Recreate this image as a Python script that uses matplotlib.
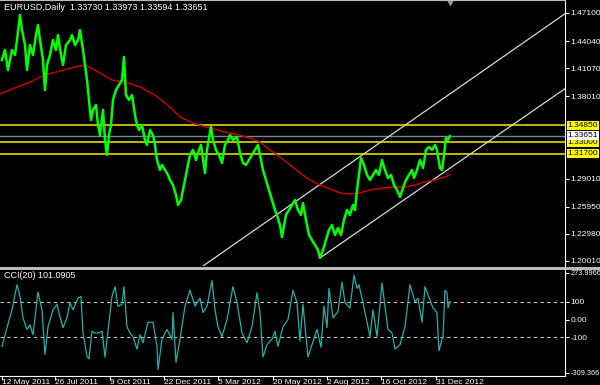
import matplotlib
matplotlib.use('agg')
import matplotlib.pyplot as plt
from matplotlib.patches import Rectangle

plt.rcParams['font.family'] = ['Liberation Sans', 'DejaVu Sans']

# EURUSD daily (bar number, price)
bar_idx = [2, 5, 8, 12, 15, 17, 20, 22, 25, 27, 30, 33, 36, 38, 40, 43, 45, 47, 50, 53,
           56, 58, 61, 63, 66, 70, 72, 75, 78, 80, 83, 85, 87, 89, 91, 93, 96, 98, 100, 103,
           105, 107, 109, 111, 113, 116, 119, 122, 124, 126, 129, 132, 135, 137, 139, 142, 145, 147, 150, 153,
           155, 157, 160, 162, 165, 168, 170, 173, 176, 178, 181, 184, 187, 190, 193, 196, 199, 201, 205, 207,
           211, 213, 216, 219, 222, 225, 228, 230, 233, 237, 240, 243, 246, 249, 252, 255, 258, 261, 263, 266,
           269, 272, 275, 277, 280, 282, 286, 289, 292, 295, 298, 301, 303, 306, 309, 312, 315, 318, 320, 323,
           326, 329, 332, 335, 338, 341, 344, 347, 350, 353, 355, 357, 359, 361, 364, 367, 370, 373, 376, 379,
           382, 385, 388, 391, 394, 397, 400, 403, 406, 409, 412, 414, 417, 420, 423, 426, 429, 432, 435, 437,
           440, 442, 444, 446, 448, 450]
price = [1.4197, 1.4306, 1.4087, 1.4306, 1.4251, 1.4415, 1.4688, 1.4524, 1.4360, 1.4087,
         1.4360, 1.4251, 1.4470, 1.4579, 1.4415, 1.4197, 1.3869, 1.4142, 1.4251, 1.4415,
         1.4306, 1.4470, 1.4251, 1.4142, 1.4360, 1.4415, 1.4470, 1.4360, 1.4415, 1.4524,
         1.4306, 1.4142, 1.3978, 1.3760, 1.3541, 1.3650, 1.3705, 1.3487, 1.3377, 1.3650,
         1.3323, 1.3159, 1.3377, 1.3487, 1.3760, 1.3869, 1.3924, 1.3978, 1.4229, 1.3814,
         1.3760, 1.3814, 1.3596, 1.3487, 1.3432, 1.3487, 1.3323, 1.3268, 1.3432, 1.3377,
         1.3268, 1.3104, 1.2995, 1.3050, 1.2995, 1.2941, 1.2886, 1.2831, 1.2722, 1.2613,
         1.2667, 1.2831, 1.2995, 1.3159, 1.3214, 1.3104, 1.3214, 1.3268, 1.2962, 1.3214,
         1.3465, 1.3323, 1.3214, 1.3159, 1.3072, 1.3268, 1.3323, 1.3377, 1.3323, 1.3356,
         1.3181, 1.3072, 1.3050, 1.3104, 1.3159, 1.3214, 1.3268, 1.3104, 1.2995, 1.2886,
         1.2777, 1.2667, 1.2558, 1.2504, 1.2394, 1.2263, 1.2504, 1.2558, 1.2613, 1.2667,
         1.2558, 1.2504, 1.2635, 1.2449, 1.2285, 1.2230, 1.2176, 1.2121, 1.2034, 1.2121,
         1.2230, 1.2340, 1.2394, 1.2285, 1.2362, 1.2285, 1.2449, 1.2558, 1.2504, 1.2613,
         1.2558, 1.2777, 1.2941, 1.3126, 1.3050, 1.2941, 1.2886, 1.2941, 1.2995, 1.2941,
         1.3104, 1.2995, 1.2908, 1.2941, 1.2831, 1.2777, 1.2700, 1.2799, 1.2886, 1.2941,
         1.2995, 1.2908, 1.2995, 1.3104, 1.3017, 1.3214, 1.3246, 1.3214, 1.3268, 1.3214,
         1.3017, 1.2995, 1.3159, 1.3345, 1.3323, 1.3365]

# moving average (red)
ma_idx = [0, 15, 30, 45, 60, 75, 85, 95, 105, 112, 125, 140, 155, 170, 180, 195, 210, 225, 235, 250,
          260, 270, 280, 290, 300, 310, 320, 330, 340, 350, 360, 370, 385, 395, 405, 415, 425, 435, 445, 450]
ma_val = [1.3825, 1.3891, 1.3956, 1.4033, 1.4076, 1.4120, 1.4142, 1.4087, 1.4022, 1.3978,
          1.3956, 1.3902, 1.3814, 1.3683, 1.3574, 1.3498, 1.3454, 1.3410, 1.3388, 1.3345,
          1.3301, 1.3214, 1.3137, 1.3050, 1.2962, 1.2886, 1.2831, 1.2788, 1.2744, 1.2733,
          1.2744, 1.2777, 1.2799, 1.2810, 1.2810, 1.2831, 1.2864, 1.2886, 1.2919, 1.2941]

# CCI(20)
cci_idx = [2, 7, 12, 17, 20, 23, 27, 30, 33, 38, 42, 45, 48, 53, 57, 60, 63, 67, 70, 73,
           78, 81, 83, 87, 89, 92, 95, 98, 102, 105, 108, 112, 115, 118, 122, 124, 127, 130, 133, 137,
           140, 143, 148, 153, 157, 158, 162, 167, 172, 173, 176, 180, 185, 190, 195, 200, 203, 207, 212, 215,
           218, 222, 227, 233, 237, 242, 247, 252, 257, 260, 263, 267, 272, 275, 278, 283, 288, 293, 297, 300,
           303, 306, 308, 312, 317, 321, 324, 327, 329, 333, 338, 342, 345, 350, 354, 357, 359, 363, 370, 373,
           377, 382, 385, 388, 392, 395, 400, 405, 410, 415, 418, 422, 425, 430, 433, 437, 438, 439, 442, 443,
           445, 447, 448, 450]
cci_val = [-150, -45, 55, 195, 130, 10, -55, -30, -85, 155, 55, -195, -40, 55, 85, 15, -45, 10, 95, 55,
           120, 130, -75, -205, -220, -65, -75, -75, -65, -210, -65, 130, 185, 75, 85, 185, -40, -75, -95, -165,
           -85, -130, -15, -15, -150, -280, -110, -55, -110, 40, -240, -110, 75, 165, 75, 120, 40, 75, 220, 55,
           -40, -95, 0, 185, 95, -75, -130, -40, 150, 40, -210, -140, -110, -65, -150, -40, 0, 165, 95, -120,
           85, -95, -210, -140, -55, -155, 75, -45, 175, 10, 45, 210, 95, 65, 250, 175, 195, 95, -95, 55,
           -95, 205, 75, -55, -75, -165, -140, -40, 195, 100, 120, -15, 185, 110, 65, 40, -75, -175, -110, -95,
           165, 150, 65, 101]

levels = [1.3485, 1.3300, 1.3170]
last_price = 1.33651
chan_upper = ([203, 566], [1.1946, 1.4710])
chan_lower = ([320, 566], [1.2034, 1.3891])

price_ticks = [1.4710, 1.4404, 1.4107, 1.3801, 1.2901, 1.2595, 1.2298, 1.2001]
date_pos = [2, 55, 110, 164, 218, 273, 327, 381, 436]
date_lbl = ['12 May 2011', '26 Jul 2011', '9 Oct 2011', '22 Dec 2011', '5 Mar 2012',
            '20 May 2012', '2 Aug 2012', '16 Oct 2012', '31 Dec 2012']

fig = plt.figure(figsize=(6, 3.85), dpi=100, facecolor='black')
ax = fig.add_axes([0, 119 / 385, 565 / 600, 266 / 385])
ax2 = fig.add_axes([0, 9 / 385, 565 / 600, 106 / 385])
for a in (ax, ax2):
    a.set_facecolor('black')
    for s in a.spines.values():
        s.set_visible(False)
    a.spines['right'].set_visible(True)
    a.spines['right'].set_color('white')
    a.set_xlim(0, 565)
ax.spines['top'].set_visible(True)
ax.spines['top'].set_color('#bbbbbb')
ax2.spines['bottom'].set_visible(True)
ax2.spines['bottom'].set_color('white')

# main panel
ax.set_ylim(1.1946, 1.4852)
for lv in levels:
    ax.axhline(lv, color='#bcbc00', lw=1.4, zorder=1)
ax.axhline(last_price, color='#778899', lw=1.0, zorder=1)
ax.plot(*chan_upper, color='#d8d8d8', lw=0.9, zorder=2)
ax.plot(*chan_lower, color='#d8d8d8', lw=0.9, zorder=2)
ax.plot(ma_idx, ma_val, color='#d00000', lw=1.0, zorder=3)
ax.plot(bar_idx, price, color='#00ff00', lw=1.8, zorder=4)
ax.plot([450], [1.4835], marker='v', color='#8a98a8', ms=5, clip_on=False)

ax.yaxis.tick_right()
ax.set_yticks(price_ticks)
ax.set_yticklabels(['%.5f' % t for t in price_ticks])
ax.tick_params(axis='y', colors='white', labelsize=6, length=3, pad=1, direction='out')
ax.set_xticks([])
ax.text(4, 1.4775, 'EURUSD,Daily  1.33730 1.33973 1.33594 1.33651',
        color='white', fontsize=6.5, va='center')
for lv in levels:
    ax.annotate('%.5f' % lv, xy=(1.005, lv), xycoords=('axes fraction', 'data'),
                fontsize=6, color='black', va='center', ha='left',
                bbox=dict(boxstyle='square,pad=0.12', fc='#ffff00', ec='none'))
ax.annotate('%.5f' % last_price, xy=(1.005, last_price + 0.001), xycoords=('axes fraction', 'data'),
            fontsize=6, color='black', va='center', ha='left',
            bbox=dict(boxstyle='square,pad=0.12', fc='white', ec='none'))

# separator
fig.add_artist(Rectangle((0, 1 - 270 / 385), 1, 3.5 / 385, transform=fig.transFigure,
                         color='#b8b8b8', lw=0))

# CCI panel
ax2.set_ylim(-316, 278)
ax2.axhline(100, color='#c8c8c8', lw=0.8, ls=(0, (3, 3)))
ax2.axhline(-100, color='#c8c8c8', lw=0.8, ls=(0, (3, 3)))
ax2.plot(cci_idx, cci_val, color='#20b2aa', lw=0.9)
ax2.text(4, 248, 'CCI(20) 101.0905', color='white', fontsize=6.5, va='center')
ax2.yaxis.tick_right()
ax2.set_yticks([262, 100, 0, -100, -298])
ax2.set_yticklabels(['273.9966', '100', '0.00', '-100', '-309.366'])
ax2.tick_params(axis='y', colors='white', labelsize=6, length=3, pad=1)
for lab in ax2.get_yticklabels():
    if len(lab.get_text()) > 5:
        lab.set_fontsize(5.3)
ax2.set_xticks(date_pos)
ax2.set_xticklabels(date_lbl, ha='left')
ax2.tick_params(axis='x', colors='white', labelsize=6, length=3, pad=-1)

fig.savefig('out.png', dpi=100, facecolor='black')
